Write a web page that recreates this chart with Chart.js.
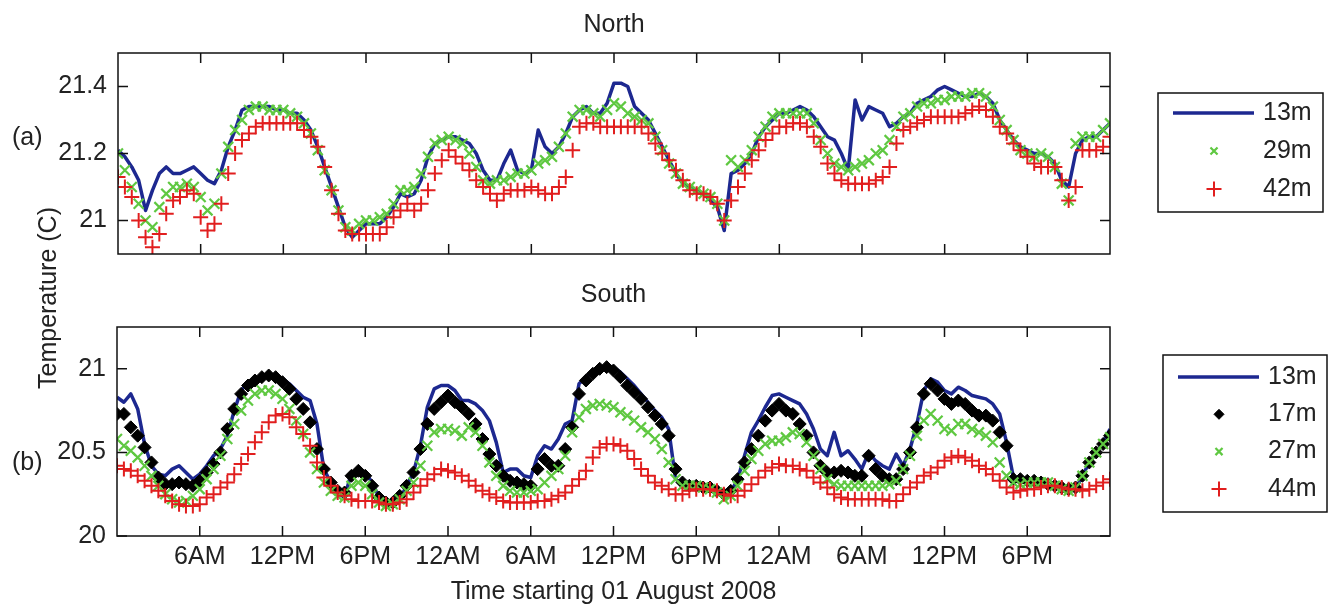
<!DOCTYPE html>
<html>
<head>
<meta charset="utf-8">
<title>North / South temperature</title>
<script src="https://cdn.jsdelivr.net/npm/chart.js@4.4.1/dist/chart.umd.min.js"></script>
<style>
  html, body { margin: 0; padding: 0; background: #fff; }
  #wrap { position: relative; width: 1332px; height: 608px; overflow: hidden;
          font-family: "Liberation Sans", Arial, Helvetica, sans-serif; color: #222; }
  #north { position: absolute; left: 0; top: 0; }
  #south { position: absolute; left: 0; top: 280px; }
  .lbl { position: absolute; font-size: 25px; line-height: 25px; white-space: nowrap; }
  #ylab { left: 47px; top: 298px; transform: translate(-50%, -50%) rotate(-90deg); }
  #la { left: 12px; top: 124px; }
  #lb { left: 12px; top: 449px; }
</style>
</head>
<body>
<div id="wrap">
  <canvas id="north" width="1332" height="280"></canvas>
  <canvas id="south" width="1332" height="328"></canvas>
  <div class="lbl" id="ylab">Temperature (C)</div>
  <div class="lbl" id="la">(a)</div>
  <div class="lbl" id="lb">(b)</div>
</div>

<script>
// Samples every half hour, hour 0 = 00:00 on 01 Aug 2008
const STEP_H = 0.5;

const X_TICKS = [6, 12, 18, 24, 30, 36, 42, 48, 54, 60, 66];
const X_TICK_LABELS = ['6AM', '12PM', '6PM', '12AM', '6AM', '12PM', '6PM', '12AM', '6AM', '12PM', '6PM'];

const NORTH_Y_TICKS = [21, 21.2, 21.4];
const NORTH_Y_LABELS = ['21', '21.2', '21.4'];
const SOUTH_Y_TICKS = [20, 20.5, 21];
const SOUTH_Y_LABELS = ['20', '20.5', '21'];

// North (a)
const NORTH_13M = [
  21.21, 21.19, 21.16, 21.12, 21.03, 21.09, 21.14, 21.16, 21.14, 21.14, 21.15, 21.16,
  21.14, 21.12, 21.11, 21.15, 21.22, 21.27, 21.33, 21.34, 21.34, 21.34, 21.34, 21.33,
  21.33, 21.32, 21.32, 21.30, 21.27, 21.22, 21.16, 21.10, 21.04, 20.98, 20.95, 20.97,
  20.99, 20.99, 20.99, 21.01, 21.04, 21.08, 21.07, 21.08, 21.12, 21.19, 21.23, 21.24,
  21.25, 21.25, 21.24, 21.23, 21.20, 21.15, 21.12, 21.12, 21.17, 21.21, 21.15, 21.14,
  21.15, 21.27, 21.22, 21.20, 21.22, 21.26, 21.31, 21.33, 21.34, 21.32, 21.32, 21.35,
  21.41, 21.41, 21.40, 21.34, 21.32, 21.30, 21.26, 21.22, 21.18, 21.14, 21.11, 21.10,
  21.09, 21.08, 21.06, 21.04, 20.97, 21.14, 21.15, 21.17, 21.20, 21.25, 21.28, 21.30,
  21.32, 21.32, 21.33, 21.34, 21.33, 21.31, 21.28, 21.25, 21.24, 21.20, 21.15, 21.36,
  21.30, 21.34, 21.33, 21.32, 21.28, 21.29, 21.31, 21.32, 21.35, 21.36, 21.37, 21.39,
  21.40, 21.39, 21.38, 21.37, 21.37, 21.38, 21.37, 21.35, 21.30, 21.27, 21.24, 21.22,
  21.21, 21.20, 21.20, 21.19, 21.17, 21.12, 21.10, 21.20, 21.24, 21.25, 21.25, 21.27,
  21.29
];
const NORTH_29M = [
  21.20, 21.15, 21.10, 21.05, 21.00, 20.98, 21.04, 21.08, 21.10, 21.10, 21.11, 21.10,
  21.07, 21.03, 21.05, 21.14, 21.22, 21.27, 21.30, 21.33, 21.34, 21.34, 21.33, 21.33,
  21.33, 21.32, 21.31, 21.29, 21.26, 21.21, 21.15, 21.09, 21.03, 20.98, 20.97, 20.99,
  21.00, 21.00, 21.01, 21.02, 21.05, 21.09, 21.09, 21.10, 21.14, 21.19, 21.23, 21.24,
  21.25, 21.24, 21.23, 21.20, 21.16, 21.12, 21.11, 21.12, 21.12, 21.13, 21.14, 21.14,
  21.15, 21.17, 21.18, 21.19, 21.22, 21.26, 21.31, 21.33, 21.33, 21.32, 21.31, 21.33,
  21.35, 21.34, 21.32, 21.31, 21.30, 21.29, 21.25, 21.21, 21.17, 21.14, 21.11, 21.10,
  21.09, 21.08, 21.07, 21.05, 21.00, 21.18, 21.16, 21.18, 21.21, 21.25, 21.28, 21.31,
  21.32, 21.32, 21.32, 21.32, 21.32, 21.29, 21.24, 21.20, 21.17, 21.16, 21.15, 21.16,
  21.17, 21.18, 21.20, 21.21, 21.24, 21.28, 21.31, 21.32, 21.34, 21.35, 21.35, 21.36,
  21.36, 21.37, 21.37, 21.37, 21.38, 21.38, 21.37, 21.34, 21.30, 21.27, 21.24, 21.21,
  21.20, 21.19, 21.20, 21.19, 21.16, 21.11, 21.06, 21.23, 21.25, 21.25, 21.25, 21.27,
  21.29
];
const NORTH_42M = [
  21.13, 21.10, 21.07, 21.00, 20.95, 20.92, 20.96, 21.02, 21.06, 21.07, 21.09, 21.08,
  21.01, 20.97, 20.99, 21.05, 21.14, 21.20, 21.24, 21.26, 21.28, 21.29, 21.29, 21.29,
  21.29, 21.29, 21.29, 21.27, 21.25, 21.22, 21.16, 21.09, 21.02, 20.97, 20.96, 20.96,
  20.96, 20.96, 20.96, 20.98, 21.01, 21.03, 21.05, 21.03, 21.05, 21.09, 21.14, 21.18,
  21.21, 21.19, 21.17, 21.15, 21.12, 21.10, 21.08, 21.06, 21.08, 21.09, 21.09, 21.09,
  21.10, 21.09, 21.08, 21.08, 21.10, 21.13, 21.21, 21.28, 21.29, 21.29, 21.28, 21.28,
  21.28, 21.28, 21.28, 21.28, 21.28, 21.26, 21.23, 21.20, 21.18, 21.15, 21.12, 21.09,
  21.08, 21.08, 21.07, 21.05, 21.00, 21.06, 21.10, 21.14, 21.18, 21.21, 21.24, 21.26,
  21.28, 21.28, 21.29, 21.29, 21.28, 21.25, 21.22, 21.17, 21.14, 21.12, 21.11, 21.11,
  21.11, 21.11, 21.12, 21.13, 21.16, 21.23, 21.27, 21.28, 21.29, 21.30, 21.31, 21.31,
  21.31, 21.31, 21.31, 21.32, 21.33, 21.34, 21.33, 21.31, 21.28, 21.26, 21.23, 21.21,
  21.19, 21.17, 21.16, 21.16, 21.16, 21.12, 21.06, 21.10, 21.21, 21.21, 21.21, 21.22,
  21.25
];

// South (b)
const SOUTH_13M = [
  20.83, 20.80, 20.85, 20.76, 20.55, 20.42, 20.37, 20.36, 20.40, 20.42, 20.38, 20.34,
  20.37, 20.42, 20.48, 20.52, 20.60, 20.75, 20.87, 20.92, 20.94, 20.95, 20.95, 20.95,
  20.94, 20.91, 20.87, 20.83, 20.81, 20.67, 20.40, 20.32, 20.26, 20.23, 20.38, 20.39,
  20.38, 20.32, 20.23, 20.19, 20.19, 20.22, 20.30, 20.38, 20.54, 20.77, 20.88, 20.90,
  20.90, 20.87, 20.81, 20.81, 20.79, 20.75, 20.69, 20.56, 20.38, 20.40, 20.40, 20.36,
  20.35, 20.48, 20.54, 20.52, 20.58, 20.67, 20.69, 20.91, 20.95, 20.98, 21.00, 21.02,
  21.01, 20.98, 20.94, 20.90, 20.85, 20.80, 20.75, 20.71, 20.64, 20.34, 20.31, 20.30,
  20.30, 20.29, 20.28, 20.27, 20.25, 20.26, 20.34, 20.48, 20.62, 20.69, 20.77, 20.84,
  20.85, 20.83, 20.81, 20.79, 20.73, 20.64, 20.52, 20.48, 20.62, 20.48, 20.51, 20.46,
  20.40, 20.50, 20.45, 20.42, 20.40, 20.49, 20.42, 20.52, 20.67, 20.87, 20.94, 20.92,
  20.87, 20.85, 20.89, 20.87, 20.84, 20.83, 20.82, 20.79, 20.73, 20.56, 20.35, 20.34,
  20.33, 20.33, 20.32, 20.31, 20.30, 20.29, 20.28, 20.28, 20.36, 20.44, 20.50, 20.56,
  20.64
];
const SOUTH_17M = [
  20.73, 20.73, 20.65, 20.60, 20.53, 20.44, 20.35, 20.31, 20.31, 20.32, 20.31, 20.30,
  20.33, 20.38, 20.43, 20.50, 20.64, 20.76, 20.85, 20.90, 20.93, 20.95, 20.96, 20.95,
  20.92, 20.88, 20.82, 20.76, 20.68, 20.52, 20.40, 20.32, 20.27, 20.26, 20.36, 20.39,
  20.36, 20.30, 20.23, 20.20, 20.20, 20.24, 20.30, 20.38, 20.52, 20.67, 20.76, 20.80,
  20.84, 20.80, 20.77, 20.73, 20.67, 20.58, 20.49, 20.42, 20.36, 20.33, 20.32, 20.31,
  20.30, 20.40, 20.46, 20.42, 20.42, 20.52, 20.65, 20.85, 20.93, 20.97, 21.00, 21.01,
  20.99, 20.95, 20.90, 20.86, 20.82, 20.77, 20.72, 20.67, 20.60, 20.40, 20.32, 20.30,
  20.30, 20.29, 20.29, 20.27, 20.25, 20.27, 20.34, 20.44, 20.52, 20.60, 20.69, 20.75,
  20.79, 20.75, 20.73, 20.67, 20.60, 20.50, 20.42, 20.38, 20.38, 20.39, 20.38, 20.36,
  20.36, 20.48, 20.40, 20.36, 20.34, 20.34, 20.40, 20.50, 20.65, 20.85, 20.91, 20.87,
  20.82, 20.79, 20.81, 20.79, 20.75, 20.72, 20.72, 20.69, 20.62, 20.54, 20.34, 20.34,
  20.33, 20.33, 20.32, 20.31, 20.30, 20.29, 20.28, 20.29, 20.36, 20.44, 20.50, 20.55,
  20.60
];
const SOUTH_27M = [
  20.58, 20.54, 20.51, 20.47, 20.42, 20.36, 20.30, 20.25, 20.22, 20.20, 20.21, 20.24,
  20.28, 20.34, 20.40, 20.48, 20.58, 20.67, 20.75, 20.81, 20.85, 20.87, 20.87, 20.85,
  20.82, 20.76, 20.69, 20.61, 20.50, 20.40, 20.32, 20.27, 20.24, 20.23, 20.30, 20.32,
  20.30, 20.25, 20.20, 20.18, 20.19, 20.22, 20.27, 20.32, 20.42, 20.54, 20.62, 20.64,
  20.64, 20.63, 20.60, 20.65, 20.62, 20.54, 20.44, 20.36, 20.30, 20.27, 20.26, 20.26,
  20.27, 20.28, 20.32, 20.36, 20.40, 20.48, 20.62, 20.71, 20.76, 20.78, 20.79, 20.78,
  20.77, 20.74, 20.72, 20.69, 20.65, 20.62, 20.58, 20.52, 20.44, 20.34, 20.30, 20.30,
  20.30, 20.29, 20.28, 20.26, 20.22, 20.24, 20.30, 20.39, 20.46, 20.51, 20.55, 20.57,
  20.57, 20.59, 20.62, 20.61, 20.56, 20.48, 20.40, 20.34, 20.31, 20.30, 20.30, 20.30,
  20.30, 20.30, 20.30, 20.30, 20.31, 20.33, 20.40, 20.48, 20.60, 20.69, 20.73, 20.69,
  20.64, 20.63, 20.67, 20.67, 20.64, 20.62, 20.60, 20.56, 20.44, 20.36, 20.32, 20.31,
  20.32, 20.32, 20.32, 20.32, 20.30, 20.28, 20.27, 20.29, 20.36, 20.44, 20.50, 20.55,
  20.59
];
const SOUTH_44M = [
  20.42, 20.40, 20.39, 20.36, 20.33, 20.30, 20.27, 20.24, 20.21, 20.19, 20.18, 20.18,
  20.19, 20.23, 20.25, 20.29, 20.32, 20.37, 20.43, 20.49, 20.56, 20.62, 20.68, 20.72,
  20.73, 20.71, 20.65, 20.61, 20.54, 20.44, 20.35, 20.30, 20.26, 20.24, 20.22, 20.21,
  20.21, 20.21, 20.20, 20.19, 20.19, 20.20, 20.22, 20.26, 20.30, 20.34, 20.37, 20.40,
  20.39, 20.38, 20.36, 20.33, 20.30, 20.27, 20.25, 20.23, 20.21, 20.20, 20.20, 20.20,
  20.20, 20.21, 20.21, 20.22, 20.24, 20.26, 20.30, 20.34, 20.39, 20.47, 20.53, 20.55,
  20.55, 20.54, 20.51, 20.46, 20.40, 20.36, 20.32, 20.30, 20.28, 20.25, 20.25, 20.27,
  20.28, 20.28, 20.28, 20.27, 20.25, 20.24, 20.24, 20.27, 20.31, 20.35, 20.39, 20.41,
  20.43, 20.42, 20.42, 20.40, 20.39, 20.35, 20.32, 20.29, 20.25, 20.23, 20.22, 20.22,
  20.22, 20.22, 20.22, 20.22, 20.21, 20.21, 20.25, 20.29, 20.32, 20.36, 20.38, 20.41,
  20.45, 20.47, 20.48, 20.47, 20.45, 20.42, 20.40, 20.37, 20.33, 20.29, 20.26, 20.27,
  20.28, 20.28, 20.29, 20.30, 20.30, 20.29, 20.28, 20.28, 20.27, 20.28, 20.30, 20.32,
  20.34
];

const FONT = '"Liberation Sans", Arial, Helvetica, sans-serif';
const TXT = '#222';
const BLUE = '#1d2890';
const GREEN = 'rgb(95,200,65)';
const RED = 'rgb(225,30,30)';
const BLACK = '#000';

function pts(vals){
  return vals.map((v, i) => ({x: i * STEP_H, y: v}));
}

// first plotted series sits underneath, like the original
function lineSet(label, vals, order){
  return {label, data: pts(vals), order, showLine: true,
    borderColor: BLUE, backgroundColor: BLUE, borderWidth: 3.5,
    borderJoinStyle: 'round', pointRadius: 0, pointHoverRadius: 0};
}
function markSet(label, vals, order, style, color, r, bw, legR){
  return {label, data: pts(vals), order, showLine: false,
    pointStyle: style, pointRadius: r, pointHoverRadius: r,
    borderColor: color, backgroundColor: color,
    pointBorderColor: color, pointBackgroundColor: color,
    borderWidth: bw, pointBorderWidth: bw, legendRadius: legR};
}

// box round the plot, ticks pointing inwards on all four sides
const framePlugin = {
  id: 'frame',
  afterDraw(chart, args, opts){
    const {ctx, chartArea: a} = chart;
    const xs = chart.scales.x, ys = chart.scales.y;
    const L = 10;
    ctx.save();
    ctx.strokeStyle = '#111';
    ctx.lineWidth = 1.5;
    ctx.strokeRect(a.left, a.top, a.right - a.left, a.bottom - a.top);
    ctx.beginPath();
    X_TICKS.forEach(v => {
      const px = xs.getPixelForValue(v);
      ctx.moveTo(px, a.top); ctx.lineTo(px, a.top + L);
      ctx.moveTo(px, a.bottom); ctx.lineTo(px, a.bottom - L);
    });
    opts.yTicks.forEach(v => {
      const py = ys.getPixelForValue(v);
      ctx.moveTo(a.left, py); ctx.lineTo(a.left + L, py);
      ctx.moveTo(a.right, py); ctx.lineTo(a.right - L, py);
    });
    ctx.stroke();
    ctx.restore();
  }
};

// boxed legend to the right of the plot
const boxLegend = {
  id: 'boxLegend',
  afterDraw(chart, args, o){
    const {ctx, chartArea: a} = chart;
    const left = a.right + o.dx;
    ctx.save();
    ctx.strokeStyle = '#111';
    ctx.lineWidth = 1.5;
    ctx.strokeRect(left, o.top, o.w, o.h);
    chart.data.datasets.forEach((ds, i) => {
      const cy = o.top + o.first + i * o.gap;
      if(ds.pointRadius === 0){
        ctx.strokeStyle = ds.borderColor;
        ctx.lineWidth = ds.borderWidth;
        ctx.beginPath();
        ctx.moveTo(left + 15, cy); ctx.lineTo(left + 96, cy);
        ctx.stroke();
      } else {
        ctx.strokeStyle = ds.borderColor;
        ctx.fillStyle = ds.backgroundColor;
        ctx.lineWidth = ds.borderWidth;
        Chart.helpers.drawPoint(ctx, {pointStyle: ds.pointStyle, radius: ds.legendRadius,
          borderWidth: ds.borderWidth, rotation: 0}, left + 56, cy);
      }
      ctx.fillStyle = TXT;
      ctx.font = '25px ' + FONT;
      ctx.textAlign = 'left';
      ctx.textBaseline = 'middle';
      ctx.fillText(ds.label, left + 105, cy);
    });
    ctx.restore();
  }
};

function yScale(min, max, ticks, labels, width){
  return {
    min, max,
    afterBuildTicks: s => { s.ticks = ticks.map(v => ({value: v})); },
    afterFit: s => { s.width = width; },
    grid: {display: false, drawTicks: false},
    border: {display: false},
    ticks: {padding: 11, color: TXT, font: {family: FONT, size: 25},
      callback: v => labels[ticks.indexOf(v)]}
  };
}

function titleOpts(text, top, bottom){
  return {display: true, text, fullSize: false, color: TXT,
    font: {family: FONT, size: 25, weight: 'normal', lineHeight: 1.2},
    padding: {top, bottom}};
}

new Chart(document.getElementById('north'), {
  type: 'line',
  data: {datasets: [
    lineSet('13m', NORTH_13M, 2),
    markSet('29m', NORTH_29M, 1, 'crossRot', GREEN, 7, 2.2, 5),
    markSet('42m', NORTH_42M, 0, 'cross', RED, 7.5, 2, 7.5)
  ]},
  options: {
    responsive: false, animation: false,
    layout: {padding: {left: 0, right: 222, top: 0, bottom: 22}},
    scales: {
      x: {type: 'linear', min: 0, max: 72, display: false,
          afterBuildTicks: s => { s.ticks = X_TICKS.map(v => ({value: v})); }},
      y: yScale(20.9, 21.5, NORTH_Y_TICKS, NORTH_Y_LABELS, 118)
    },
    plugins: {
      legend: {display: false}, tooltip: {enabled: false},
      title: titleOpts('North', 10, 13),
      frame: {yTicks: NORTH_Y_TICKS},
      boxLegend: {dx: 48, top: 93, w: 165, h: 119, first: 20, gap: 38}
    }
  },
  plugins: [framePlugin, boxLegend]
});

new Chart(document.getElementById('south'), {
  type: 'line',
  data: {datasets: [
    lineSet('13m', SOUTH_13M, 3),
    markSet('17m', SOUTH_17M, 2, 'rectRot', BLACK, 6.5, 1, 5),
    markSet('27m', SOUTH_27M, 1, 'crossRot', GREEN, 7, 2.2, 5),
    markSet('44m', SOUTH_44M, 0, 'cross', RED, 7.5, 2, 7.5)
  ]},
  options: {
    responsive: false, animation: false,
    layout: {padding: {left: 0, right: 222, top: 0, bottom: 0}},
    scales: {
      x: {type: 'linear', min: 0, max: 72,
          afterBuildTicks: s => { s.ticks = X_TICKS.map(v => ({value: v})); },
          afterFit: s => { s.height = 72; },
          grid: {display: false, drawTicks: false},
          border: {display: false},
          ticks: {autoSkip: false, maxRotation: 0, padding: 6, color: TXT,
            font: {family: FONT, size: 25},
            callback: v => X_TICK_LABELS[X_TICKS.indexOf(v)]},
          title: {display: true, text: 'Time starting 01 August 2008', color: TXT,
            font: {family: FONT, size: 25, lineHeight: 1.2}, padding: {top: 0, bottom: 1}}},
      y: yScale(20, 21.25, SOUTH_Y_TICKS, SOUTH_Y_LABELS, 117)
    },
    plugins: {
      legend: {display: false}, tooltip: {enabled: false},
      title: titleOpts('South', 0, 17),
      frame: {yTicks: SOUTH_Y_TICKS},
      boxLegend: {dx: 53, top: 75, w: 164, h: 157, first: 22, gap: 37.3}
    }
  },
  plugins: [framePlugin, boxLegend]
});
</script>
</body>
</html>
